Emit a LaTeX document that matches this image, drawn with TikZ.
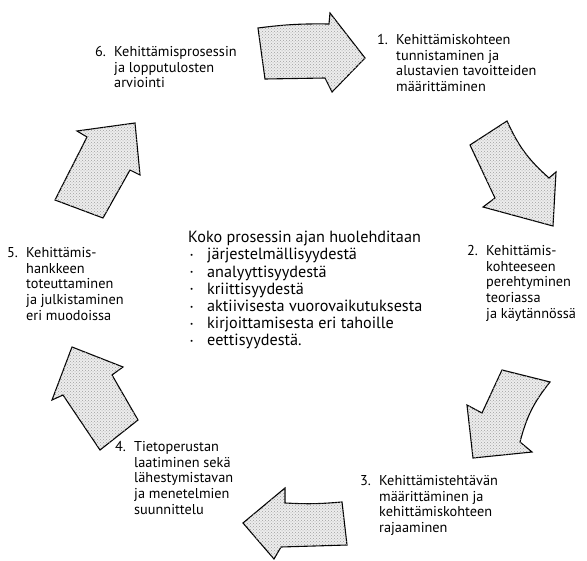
\documentclass[tikz,border=0pt]{standalone}
\usepackage{fontspec}
\setmainfont{PT Sans}
\usetikzlibrary{patterns}
\newcommand{\numbox}[1]{\makebox[19pt][l]{#1}}
\newcommand{\bul}{\makebox[19pt][l]{\hspace{2pt}\raisebox{0.15em}{\scriptsize\textbullet}}}
\begin{document}
\begin{tikzpicture}[x=1pt,y=-1pt,
  bigarrow/.style={draw=black, line width=1.1pt, line join=miter, fill=gray!14,
     postaction={pattern=crosshatch dots, pattern color=gray!75}},
  steplabel/.style={anchor=north west, inner sep=0pt, font=\fontsize{14.3}{15.8}\selectfont, align=left},
  centerlabel/.style={anchor=north west, inner sep=0pt, font=\fontsize{16.2}{17.2}\selectfont, align=left},
]
\useasboundingbox (0,0) rectangle (587,561);

% arrow 1 (top, pointing right)
\path[bigarrow] (258,28) to[bend left=4] (329,24) -- (330,13) -- (365,58) -- (332,92) -- (325,78) -- (265,79) -- cycle;
% arrow 2 (right, pointing down)
\path[bigarrow] (470,145) -- (507,121) to[bend right=12] (549,178) -- (556,172) -- (553,226) -- (483,207) -- (495,198) -- cycle;
% arrow 3 (lower right, pointing down-left)
\path[bigarrow] (502,370) -- (550,382) to[bend right=12] (520,442) -- (532,452) -- (473,458) -- (467,405) -- (482,413) -- cycle;
% arrow 4 (bottom, pointing left)
\path[bigarrow] (342,502) to[bend left=4] (285,503) -- (285,488) -- (243,523) -- (274,559) -- (281,547) -- (347,545) -- cycle;
% arrow 5 (left, pointing up)
\path[bigarrow] (72,347) -- (123,367) -- (112,375) -- (138,420) -- (100,450) -- (63,395) -- (52,400) -- cycle;
% arrow 6 (upper left, pointing up-right)
\path[bigarrow] (55,200) -- (87,137) -- (77,131) -- (135,123) -- (140,175) -- (130,170) -- (103,218) -- cycle;

\node[steplabel] (s1) at (377,34) {\numbox{1.}Kehittämiskohteen\\\numbox{}tunnistaminen ja\\\numbox{}alustavien tavoitteiden\\\numbox{}määrittäminen};
\node[steplabel] (s2) at (467,245) {\numbox{2.}Kehittämis-\\\numbox{}kohteeseen\\\numbox{}perehtyminen\\\numbox{}teoriassa\\\numbox{}ja käytännössä};
\node[steplabel] (s3) at (360,475) {\numbox{3.}Kehittämistehtävän\\\numbox{}määrittäminen ja\\\numbox{}kehittämiskohteen\\\numbox{}rajaaminen};
\node[steplabel] (s4) at (115,441) {\numbox{4.}Tietoperustan\\\numbox{}laatiminen sekä\\\numbox{}lähestymistavan\\\numbox{}ja menetelmien\\\numbox{}suunnittelu};
\node[steplabel] (s5) at (7,247) {\numbox{5.}Kehittämis-\\\numbox{}hankkeen\\\numbox{}toteuttaminen\\\numbox{}ja julkistaminen\\\numbox{}eri muodoissa};
\node[steplabel] (s6) at (95,46) {\numbox{6.}Kehittämisprosessin\\\numbox{}ja lopputulosten\\\numbox{}arviointi};

\node[centerlabel] (c) at (188,231) {Koko prosessin ajan huolehditaan\\\bul järjestelmällisyydestä\\\bul analyyttisyydestä\\\bul kriittisyydestä\\\bul aktiivisesta vuorovaikutuksesta\\\bul kirjoittamisesta eri tahoille\\\bul eettisyydestä.};
\end{tikzpicture}
\end{document}
